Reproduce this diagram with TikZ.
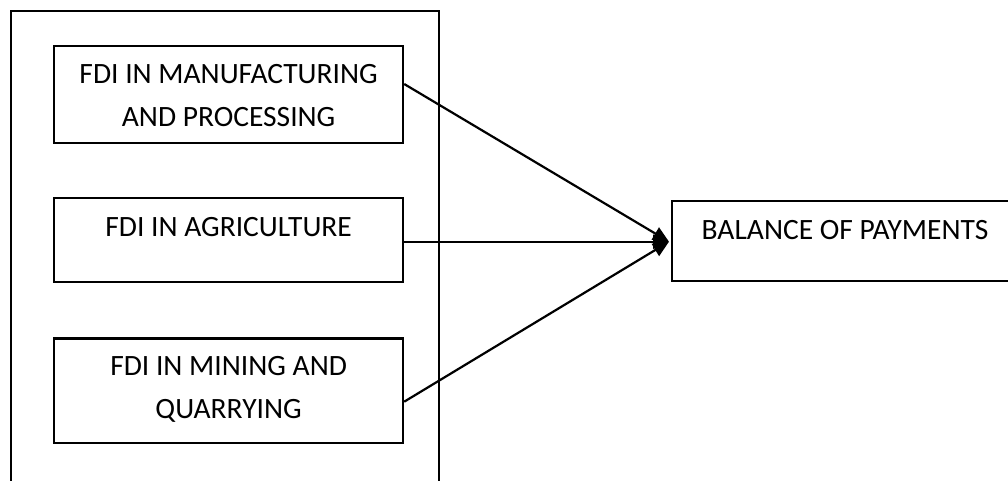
\documentclass[tikz,border=0pt]{standalone}
\usepackage{fontspec}
\setmainfont{Carlito}
\usetikzlibrary{arrows.meta,calc}
\begin{document}
\begin{tikzpicture}[x=1pt,y=-1pt,
  box/.style={draw=black,line width=2.2pt,rectangle,inner sep=0pt,anchor=north west},
  txt/.style={anchor=base,inner sep=0pt,font=\fontsize{29.5}{42.7}\selectfont,align=center},
  conn/.style={line width=2.2pt,-{Triangle[length=16pt,width=14pt]}}]
\useasboundingbox (0,0) rectangle (1008,480);
\clip (0,0) rectangle (1008,480);
\fill[white] (0,0) rectangle (1008,480);
\node[box,minimum width=428pt,minimum height=480pt] (outer) at (9.5,10) {};
\node[box,minimum width=349pt,minimum height=96.7pt] (m1) at (53,45) {};
\node[box,minimum width=349pt,minimum height=84pt] (m2) at (53,196.7) {};
\node[box,minimum width=349pt,minimum height=104.7pt] (m3) at (53,337.3) {};
\node[box,minimum width=350pt,minimum height=80pt] (bop) at (671,200) {};
\node[txt] (t1) at ($(m1.north)+(0,81)$) {FDI IN MANUFACTURING\\AND PROCESSING};
\node[txt] (t2) at ($(m2.north)+(0,39.3)$) {FDI IN AGRICULTURE};
\node[txt] (t3) at ($(m3.north)+(0,81.2)$) {FDI IN MINING AND\\QUARRYING};
\node[txt,anchor=base west] (t4) at ($(bop.north west)+(30.5,39.3)$) {BALANCE OF PAYMENTS};
\coordinate (s1) at ($(m1.north east)+(0,39)$);
\coordinate (s2) at ($(m2.north east)+(0,45)$);
\coordinate (s3) at ($(m3.north east)+(0,64.4)$);
\coordinate (tip) at ($(bop.north west)+(-2,41.7)$);
\draw[conn] (s1) -- (tip);
\draw[conn] (s2) -- (tip);
\draw[conn] (s3) -- (tip);
\end{tikzpicture}
\end{document}
